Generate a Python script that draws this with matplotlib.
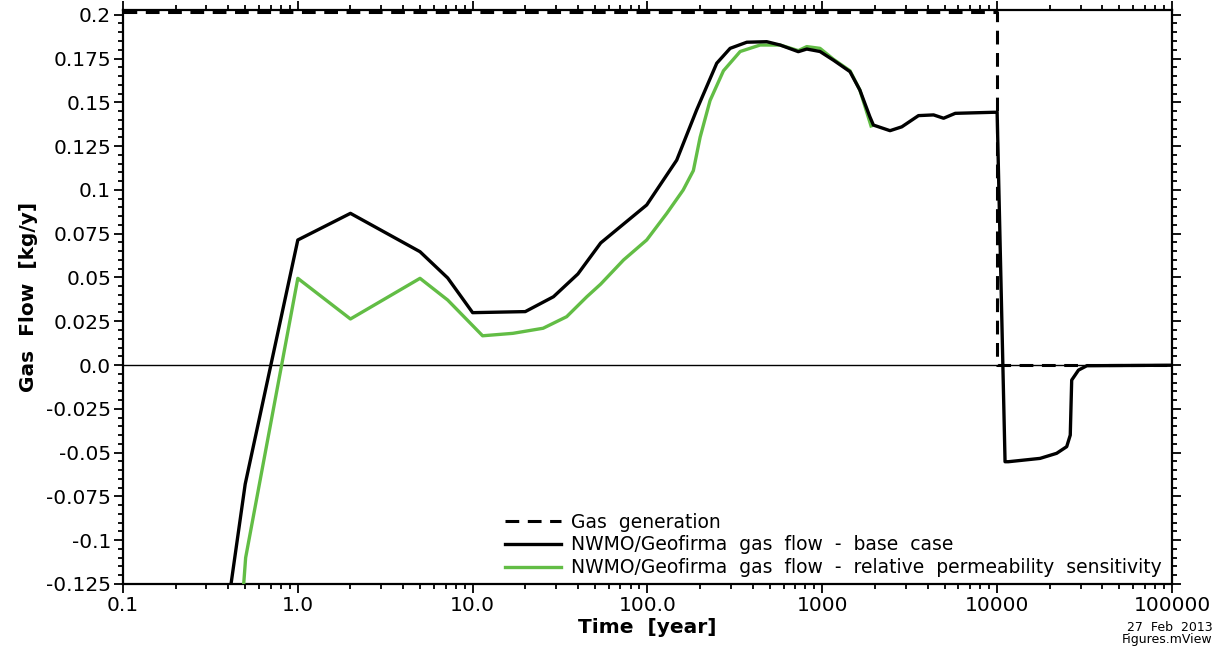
import numpy as np
import matplotlib
matplotlib.use("Agg")
import matplotlib.pyplot as plt
from matplotlib.ticker import FixedLocator, FuncFormatter, AutoMinorLocator, LogLocator, NullFormatter

plt.rcParams['font.family'] = ['DejaVu Sans']

# gas generation (dashed): constant until closure, zero afterwards
t_gen = [0.1, 10000, 10000, 100000]
q_gen = [0.2015, 0.2015, 0.0, 0.0]

# NWMO/Geofirma base case
t_base = [0.1, 0.5, 1.0, 2.0, 5.0, 7.2, 10.0, 20.0, 29.0, 40.0, 54.0, 70.0, 99.0,
          147.0, 191.0, 249.0, 297.0, 370.0, 481.0, 574.0, 729.0, 815.0, 970.0,
          1160.0, 1440.0, 1640.0, 1870.0, 1960.0, 2440.0, 2850.0, 3550.0, 4330.0,
          4940.0, 5760.0, 9530.0, 10000.0, 11100.0, 11600.0, 17600.0, 21900.0,
          25000.0, 26200.0, 26700.0, 29200.0, 32600.0, 100000.0]
q_base = [-0.56, -0.068, 0.0714, 0.0866, 0.0647, 0.0497, 0.0299, 0.0305, 0.039, 0.052,
          0.0697, 0.079, 0.0914, 0.117, 0.1456, 0.1723, 0.1808, 0.1843, 0.1846,
          0.1827, 0.1789, 0.1804, 0.179, 0.174, 0.1675, 0.157, 0.1418, 0.137,
          0.1338, 0.136, 0.1424, 0.1428, 0.1409, 0.1437, 0.1443, 0.1443, -0.0552,
          -0.0552, -0.0533, -0.0504, -0.0466, -0.040, -0.0086, -0.0029, -0.0004,
          -0.0001]

# relative permeability sensitivity
t_sens = [0.1, 0.503, 1.0, 2.0, 5.0, 7.2, 11.4, 17.0, 25.3, 34.5, 45.0, 54.0, 73.0,
          99.0, 129.0, 160.0, 183.0, 200.0, 228.0, 272.0, 339.0, 441.0, 574.0,
          729.0, 815.0, 970.0, 1160.0, 1440.0, 1640.0, 1900.0]
q_sens = [-1.06, -0.11, 0.0495, 0.0263, 0.0495, 0.0371, 0.0167, 0.0181, 0.021, 0.0276,
          0.039, 0.0462, 0.06, 0.0714, 0.0866, 0.0999, 0.111, 0.130, 0.151, 0.168,
          0.179, 0.1827, 0.1827, 0.1795, 0.1818, 0.1808, 0.1745, 0.168, 0.157,
          0.1365]

x_ticks = [0.1, 1.0, 10.0, 100.0, 1000.0, 10000.0, 100000.0]
x_labels = ["0.1", "1.0", "10.0", "100.0", "1000", "10000", "100000"]
y_ticks = [-0.125, -0.1, -0.075, -0.05, -0.025, 0.0, 0.025, 0.05, 0.075, 0.1,
           0.125, 0.15, 0.175, 0.2]

green = "#62bd45"

fig = plt.figure(figsize=(12.25, 6.53), dpi=100)
ax = fig.add_axes([0.1004, 0.1057, 0.8563, 0.879])

ax.axhline(0.0, color="black", lw=1.0, zorder=1)
ax.plot(t_gen, q_gen, color="black", lw=2.2, ls=(0, (4.5, 2.8)), zorder=2,
        label="Gas  generation")
ax.plot(t_base, q_base, color="black", lw=2.4, zorder=4,
        label="NWMO/Geofirma  gas  flow  -  base  case")
ax.plot(t_sens, q_sens, color=green, lw=2.4, zorder=3,
        label="NWMO/Geofirma  gas  flow  -  relative  permeability  sensitivity")

ax.set_xscale("log")
ax.set_xlim(0.1, 100000)
ax.set_ylim(-0.125, 0.2027)

ax.xaxis.set_major_locator(FixedLocator(x_ticks))
ax.set_xticklabels(x_labels)
ax.xaxis.set_minor_locator(LogLocator(base=10, subs=np.arange(2, 10)))
ax.xaxis.set_minor_formatter(NullFormatter())

ax.yaxis.set_major_locator(FixedLocator(y_ticks))
ax.yaxis.set_major_formatter(FuncFormatter(lambda v, p: "0.0" if abs(v) < 1e-9 else f"{v:g}"))
ax.yaxis.set_minor_locator(AutoMinorLocator(5))

ax.tick_params(which="both", direction="out", top=True, right=True,
               labeltop=False, labelright=False, width=1.3)
ax.tick_params(which="major", length=6.5, labelsize=14.5, pad=2)
ax.tick_params(which="minor", length=3.5)
for s in ax.spines.values():
    s.set_linewidth(1.6)

ax.set_xlabel("Time  [year]", fontsize=14.5, fontweight="bold", labelpad=2)
ax.set_ylabel("Gas  Flow  [kg/y]", fontsize=14.5, fontweight="bold", labelpad=6)

ax.legend(loc="lower left", bbox_to_anchor=(0.364, 0.012), frameon=False,
          fontsize=13.5, handlelength=3.0, handletextpad=0.55, labelspacing=0.2,
          borderaxespad=0.0, borderpad=0.0)

fig.text(0.99, 0.01, "27  Feb  2013\nFigures.mView", ha="right", va="bottom",
         fontsize=9, linespacing=0.95)

fig.savefig("out.png", dpi=100)
